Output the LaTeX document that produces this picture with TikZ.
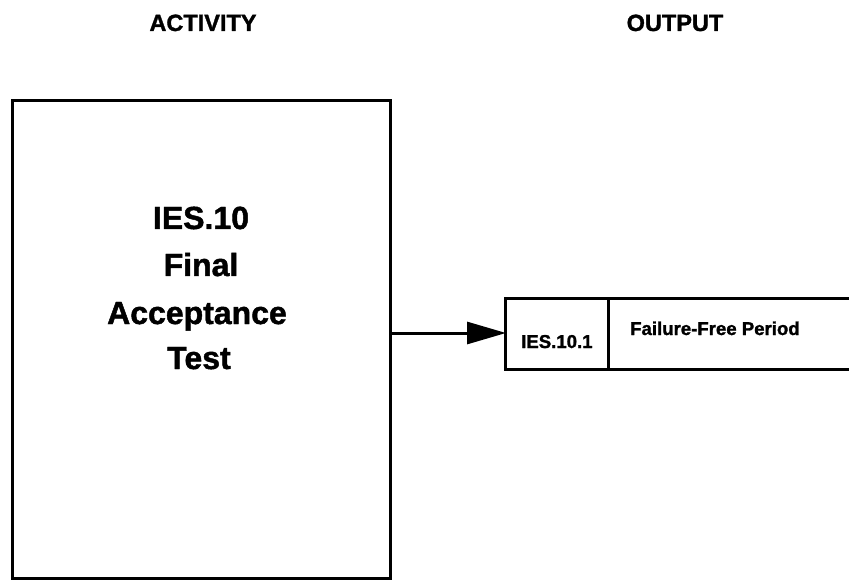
\documentclass[tikz,border=0pt]{standalone}
\usepackage{fontspec}
\setmainfont{Liberation Sans}
\newfontfamily\heavy{Liberation Sans Bold}[FakeBold=1.4]
\usetikzlibrary{arrows.meta}
\tikzset{
  frame/.style={draw=black, line width=3pt, inner sep=0pt, outer sep=0pt},
  title/.style={font=\heavy\fontsize{23.5}{27}\selectfont, anchor=base, inner sep=0pt},
  big/.style={font=\heavy\fontsize{32}{36}\selectfont, anchor=base, inner sep=0pt},
  small/.style={font=\heavy\fontsize{18.6}{22}\selectfont, anchor=base west, inner sep=0pt},
  conn/.style={line width=3pt, -{Triangle[length=39pt,width=22pt]}, shorten >=-1pt}
}
\begin{document}
\begin{tikzpicture}[x=1pt,y=-1pt]
\useasboundingbox (0,0) rectangle (849,580);
% titles
\node[title] (tact) at (203,31) {ACTIVITY};
\node[title] (tout) at (675,31) {OUTPUT};
% activity box
\node[frame, minimum width=378pt, minimum height=477pt, anchor=north west] (act) at (12,101) {};
\node[big] (l1) at (201,229) {IES.10};
\node[big] (l2) at (201,276) {Final};
\node[big] (l3) at (197,324) {Acceptance};
\node[big] (l4) at (199,369) {Test};
% output cells
\node[frame, minimum width=103pt, minimum height=71pt, anchor=north west] (oid) at (505,298) {};
\coordinate (dtl) at (608,298);
\coordinate (dbl) at (608,369);
\coordinate (dtr) at (851,298);
\coordinate (dbr) at (851,369);
\draw[line width=3pt] (dtl) -- (dtr) (dbl) -- (dbr);
\node[small] (idt) at (521,348) {IES.10.1};
\node[small] (desc) at (630,335) {Failure-Free Period};
% connector
\draw[conn] (act.east |- 0,333) -- (oid.west |- 0,333);
\end{tikzpicture}
\end{document}
